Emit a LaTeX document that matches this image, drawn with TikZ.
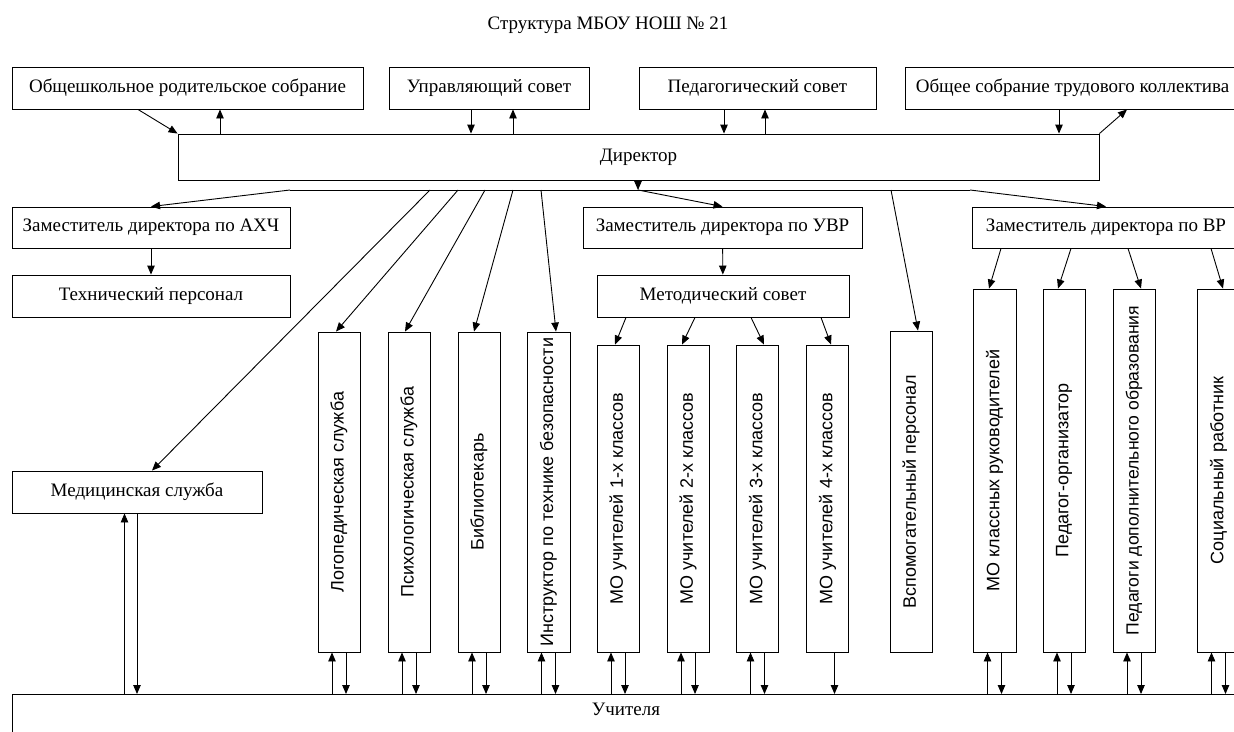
\documentclass[tikz,border=0pt]{standalone}
\usepackage{fontspec}
\setmainfont{Liberation Serif}
\newfontfamily\vertfont{Liberation Sans}
\usetikzlibrary{arrows.meta}

\begin{document}
\begin{tikzpicture}[x=1pt,y=-1pt,line width=0.9pt,
   >={Triangle[length=9pt,width=7.5pt]},
   box/.style={draw,rectangle,inner sep=0pt,font=\fontsize{19}{22}\selectfont},
   vbox/.style={draw,rectangle,inner sep=0pt,minimum width=42pt,
                font=\vertfont\fontsize{18}{20}\selectfont}]
         \clip (0,0) rectangle (1234,731) ;
         \node[font=\fontsize{19}{22}\selectfont] (title) at (608,25) {Структура МБОУ НОШ № 21} ;
         % верхний ряд
         \node[box,minimum width=351pt,minimum height=42pt] (parents) at (187.5,88) {Общешкольное родительское собрание} ;
         \node[box,minimum width=200pt,minimum height=42pt] (council) at (489,88) {Управляющий совет} ;
         \node[box,minimum width=237pt,minimum height=42pt] (pedcouncil) at (757.5,88) {Педагогический совет} ;
         \node[box,minimum width=335pt,minimum height=42pt] (staff) at (1072.5,88) {Общее собрание трудового коллектива} ;
         \node[box,minimum width=921pt,minimum height=46pt] (director) at (638.5,157) {Директор} ;
         % заместители
         \node[box,minimum width=278pt,minimum height=41pt] (ahch) at (151,227.5) {Заместитель директора по АХЧ} ;
         \node[box,minimum width=278pt,minimum height=42pt] (tech) at (151,296) {Технический персонал} ;
         \node[box,minimum width=279pt,minimum height=41pt] (uvr) at (722.5,227.5) {Заместитель директора по УВР} ;
         \node[box,minimum width=252pt,minimum height=42pt] (method) at (723,296) {Методический совет} ;
         \node[box,minimum width=268pt,minimum height=41pt] (vr) at (1106,227.5) {Заместитель директора по ВР} ;
         \node[box,minimum width=250pt,minimum height=42pt] (med) at (137,492) {Медицинская служба} ;
         % вертикальные блоки
         \node[vbox,minimum height=320pt] (logo) at (339,492) {\rotatebox{90}{Логопедическая служба}} ;
         \node[vbox,minimum height=320pt] (psych) at (409,492) {\rotatebox{90}{Психологическая служба}} ;
         \node[vbox,minimum height=320pt] (bibl) at (479,492) {\rotatebox{90}{Библиотекарь}} ;
         \node[vbox,minimum height=320pt,minimum width=43pt] (instr) at (548.5,492) {\rotatebox{90}{Инструктор по технике безопасности}} ;
         \foreach \i/\x in {1/618,2/688,3/757.5,4/827.5}
            \node[vbox,minimum height=307pt] (mo\i) at (\x,498.5) {\rotatebox{90}{МО учителей \i-х классов}} ;
         \node[vbox,minimum height=321pt] (vspom) at (911,491.5) {\rotatebox{90}{Вспомогательный персонал}} ;
         \node[vbox,minimum height=363pt,minimum width=43pt] (mokl) at (994.5,470.5) {\rotatebox{90}{МО классных руководителей}} ;
         \node[vbox,minimum height=363pt] (pedorg) at (1064,470.5) {\rotatebox{90}{Педагог-организатор}} ;
         \node[vbox,minimum height=363pt] (peddop) at (1134,470.5) {\rotatebox{90}{\fontsize{17.6}{20}\selectfont Педагоги дополнительного образования}} ;
         \node[vbox,minimum height=363pt,minimum width=43pt] (soc) at (1218.5,470.5) {\rotatebox{90}{Социальный работник}} ;
         \node[box,anchor=north,minimum width=1228pt,text height=21pt,text depth=30pt] (teachers) at (626,694) {Учителя} ;
         % связи с директором
         \draw[->] (parents.south -| 138,0) -- (director.north west) ;
         \draw[->] (director.north -| 220,0) -- (parents.south -| 220,0) ;
         \draw[->] (council.south -| 471,0) -- (director.north -| 471,0) ;
         \draw[->] (director.north -| 513,0) -- (council.south -| 513,0) ;
         \draw[->] (pedcouncil.south -| 724,0) -- (director.north -| 724,0) ;
         \draw[->] (director.north -| 765,0) -- (pedcouncil.south -| 765,0) ;
         \draw[->] (staff.south -| 1059,0) -- (director.north -| 1059,0) ;
         \draw[->] (director.north east) -- (staff.south -| 1127,0) ;
         % шина под директором
         \coordinate (bus) at (638,190) ;
         \coordinate (busL) at (290,190) ;
         \coordinate (busR) at (970,190) ;
         \draw[->] (director.south -| bus) -- (bus) ;
         \draw (busL) -- (busR) ;
         \draw[->] (busL) -- (ahch.north) ;
         \draw[->] (bus) -- (uvr.north) ;
         \draw[->] (busR) -- (vr.north) ;
         \draw[->] (bus -| 430,0) -- (med.north -| 152,0) ;
         \draw[->] (bus -| 458,0) -- (logo.north -| 336,0) ;
         \draw[->] (bus -| 485,0) -- (psych.north -| 405,0) ;
         \draw[->] (bus -| 513,0) -- (bibl.north -| 474,0) ;
         \draw[->] (bus -| 541,0) -- (instr.north -| 556,0) ;
         \draw[->] (bus -| 891,0) -- (vspom.north -| 918,0) ;
         \draw[->] (ahch) -- (tech) ;
         \draw[->] (uvr) -- (method) ;
         \foreach \i/\a/\b in {1/626/615,2/695/682,3/751/764,4/821/831}
            \draw[->] (method.south -| \a,0) -- (mo\i.north -| \b,0) ;
         \draw[->] (vr.south -| 1001,0) -- (mokl.north -| 989,0) ;
         \draw[->] (vr.south -| 1071,0) -- (pedorg.north -| 1058,0) ;
         \draw[->] (vr.south -| 1128,0) -- (peddop.north -| 1141,0) ;
         \draw[->] (vr.south -| 1211,0) -- (soc.north -| 1223,0) ;
         % связи с учителями
         \draw[->] ([xshift=-12.5pt]med.south |- teachers.north) -- ([xshift=-12.5pt]med.south) ;
         \draw[->] (med.south) -- (med.south |- teachers.north) ;
         \foreach \n in {logo,psych,bibl,instr,mo1,mo2,mo3,mokl,pedorg,peddop,soc} {
            \draw[->] ([xshift=-7pt]\n.south |- teachers.north) -- ([xshift=-7pt]\n.south) ;
            \draw[->] ([xshift=7pt]\n.south) -- ([xshift=7pt]\n.south |- teachers.north) ;
         }
         \draw[->] ([xshift=7pt]mo4.south) -- ([xshift=7pt]mo4.south |- teachers.north) ;
\end{tikzpicture}
\end{document}
